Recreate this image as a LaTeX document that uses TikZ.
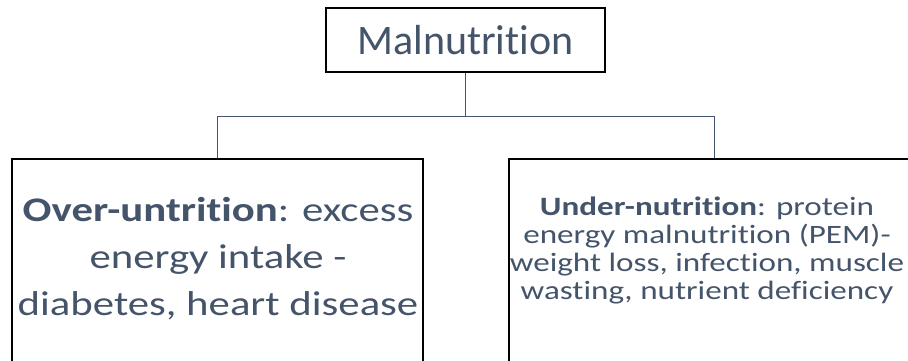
\documentclass[tikz,border=0pt]{standalone}
\usepackage{fontspec}
\setmainfont{Carlito}[Ligatures=NoCommon]
\newfontfamily\widefont{Carlito}[Ligatures=NoCommon, FakeStretch=1.24]
\newfontfamily\widerfont{Carlito}[Ligatures=NoCommon, FakeStretch=1.25]
\usetikzlibrary{positioning}
\definecolor{slate}{HTML}{44546A}

\begin{document}
\begin{tikzpicture}[x=1pt, y=-1pt,
    rootbox/.style={rectangle, draw=black, line width=2pt, fill=white, minimum width=279pt, minimum height=64pt, inner sep=0pt, text=slate, font=\fontsize{42}{50}\selectfont},
    branchbox/.style={rectangle, draw=black, line width=2pt, minimum width=411pt, minimum height=260pt, inner sep=0pt, anchor=north},
    bigtext/.style={text=slate, align=center, anchor=base, font=\widefont\fontsize{34.5}{47}\selectfont, inner sep=0pt},
    smalltext/.style={text=slate, align=center, anchor=base, font=\widerfont\fontsize{26.5}{28}\selectfont, inner sep=0pt},
    link/.style={draw=slate, line width=1pt}
  ]
  \useasboundingbox (0,0) rectangle (908,361);
  \clip (0,0) rectangle (908,361);
  % Malnutrition
  \node[rootbox] (root) at (465.5,40) {Malnutrition};
  % Over-nutrition
  \node[branchbox] (over) at (217.5,158) {};
  \node[bigtext] (overtext) at (218,315) {\textbf{Over-untrition}: excess\\energy intake -\\diabetes, heart disease};
  % Under-nutrition
  \node[branchbox] (under) at (714,158) {};
  \node[smalltext] (undertext) at (707,299) {\textbf{Under-nutrition}: protein\\energy malnutrition (PEM)-\\weight loss, infection, muscle\\wasting, nutrient deficiency};
  % Connections
  \draw[link] (root.south) -- ++(0,43) coordinate (fork) -| (over.north);
  \draw[link] (fork) -| (under.north);
\end{tikzpicture}
\end{document}
